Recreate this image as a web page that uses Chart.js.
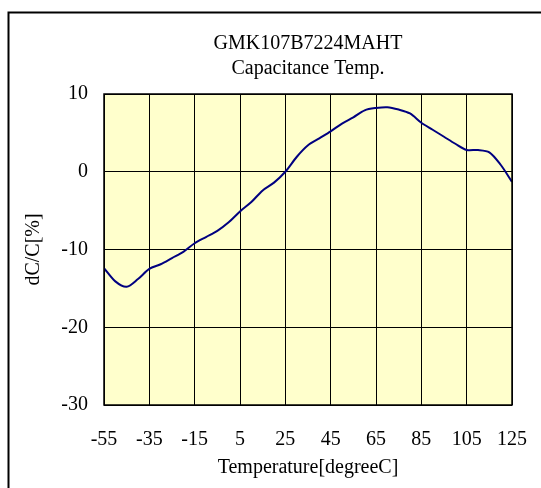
<!DOCTYPE html>
<html>
<head>
<meta charset="utf-8">
<script src="https://cdn.jsdelivr.net/npm/chart.js@4/dist/chart.umd.min.js"></script>
<style>
    html, body { margin: 0; padding: 0; background: #fff; }
    #wrap { position: relative; width: 541px; height: 488px; }
</style>
</head>
<body>
<div id="wrap"><canvas id="myChart" width="541" height="488"></canvas></div>
<script>
// temperature (degC) and capacitance change (%)
var temps = [-55, -50, -45, -40, -35, -30, -25, -20, -15, -10, -5, 0, 5, 10, 15, 20, 25, 30, 35,
             40, 45, 50, 55, 60, 65, 70, 75, 80, 85, 90, 95, 100, 105, 110, 115, 120, 125];
var dcap = [-12.4, -14.1, -14.8, -13.8, -12.5, -11.9, -11.1, -10.3, -9.2, -8.4, -7.6, -6.5, -5.1, -3.9, -2.4, -1.4, 0.0, 1.9, 3.4,
            4.3, 5.2, 6.2, 7.0, 7.9, 8.2, 8.3, 8.0, 7.5, 6.3, 5.4, 4.5, 3.6, 2.8, 2.8, 2.5, 0.9, -1.3];

var xTicks = [-55, -35, -15, 5, 25, 45, 65, 85, 105, 125];
var yTicks = [-30, -20, -10, 0, 10];

var titleLines = ["GMK107B7224MAHT", "Capacitance Temp."];
var xTitle = "Temperature[degreeC]";
var yTitle = "dC/C[%]";

var serif = "'Liberation Serif', 'Times New Roman', serif";

var points = [];
for (let i in temps) {
    points.push({ x: temps[i], y: dcap[i] });
}

// yellow plot area, plot frame, outer frame and the two title lines
var framePlugin = {
    id: 'framePlugin',
    beforeDraw: function (chart) {
        let ctx = chart.ctx;
        let a = chart.chartArea;
        ctx.save();
        ctx.fillStyle = '#FFFFCC';
        ctx.fillRect(a.left, a.top, a.right - a.left, a.bottom - a.top);
        ctx.strokeStyle = '#000';
        ctx.lineWidth = 2;
        ctx.beginPath();
        ctx.moveTo(8.5, 488);
        ctx.lineTo(8.5, 12.5);
        ctx.lineTo(541, 12.5);
        ctx.stroke();
        ctx.restore();
    },
    afterDatasetsDraw: function (chart) {
        let ctx = chart.ctx;
        let a = chart.chartArea;
        ctx.save();
        ctx.strokeStyle = '#000';
        ctx.lineWidth = 1.5;
        ctx.strokeRect(a.left, a.top, a.right - a.left, a.bottom - a.top);
        ctx.restore();
    },
    afterDraw: function (chart) {
        let ctx = chart.ctx;
        let a = chart.chartArea;
        let cx = (a.left + a.right) / 2;
        ctx.save();
        ctx.fillStyle = '#000';
        ctx.font = "20px " + serif;
        ctx.textAlign = 'center';
        ctx.textBaseline = 'middle';
        for (let i in titleLines) {
            ctx.fillText(titleLines[i], cx, 44 + i * 25);
        }
        ctx.restore();
    }
};

var ctx = document.getElementById('myChart').getContext('2d');
var myChart = new Chart(ctx, {
    type: 'line',
    data: {
        datasets: [{
            data: points,
            borderColor: '#000080',
            borderWidth: 2,
            pointRadius: 0,
            tension: 0.3,
            fill: false
        }]
    },
    options: {
        responsive: false,
        animation: false,
        layout: { padding: { left: 0, right: 29, top: 94, bottom: 0 } },
        plugins: {
            legend: { display: false },
            tooltip: { enabled: false },
            title: { display: false }
        },
        scales: {
            x: {
                type: 'linear',
                min: -55,
                max: 125,
                afterBuildTicks: function (scale) {
                    scale.ticks = xTicks.map(v => ({ value: v }));
                },
                afterFit: function (scale) {
                    scale.height = 83;
                    scale.paddingLeft = 0;
                    scale.paddingRight = 0;
                },
                grid: { color: '#000', lineWidth: 1, drawTicks: false },
                border: { display: false },
                ticks: {
                    color: '#000',
                    padding: 23,
                    maxRotation: 0,
                    autoSkip: false,
                    font: { family: serif, size: 20 }
                },
                title: {
                    display: true,
                    text: xTitle,
                    color: '#000',
                    padding: { top: 0, bottom: 8 },
                    font: { family: serif, size: 20 }
                }
            },
            y: {
                type: 'linear',
                min: -30,
                max: 10,
                afterBuildTicks: function (scale) {
                    scale.ticks = yTicks.map(v => ({ value: v }));
                },
                afterFit: function (scale) {
                    scale.width = 104;
                },
                grid: { color: '#000', lineWidth: 1, drawTicks: false },
                border: { display: false },
                ticks: {
                    color: '#000',
                    padding: 16,
                    font: { family: serif, size: 20 }
                },
                title: {
                    display: true,
                    text: yTitle,
                    color: '#000',
                    padding: { top: 22, bottom: 0 },
                    font: { family: serif, size: 20 }
                }
            }
        }
    },
    plugins: [framePlugin]
});
</script>
</body>
</html>
